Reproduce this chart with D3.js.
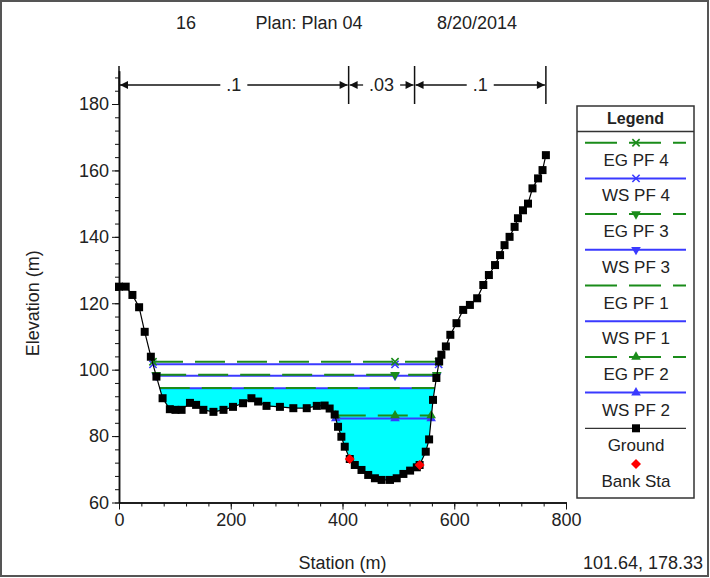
<!DOCTYPE html>
<html>
<head>
<meta charset="utf-8">
<script src="https://cdn.jsdelivr.net/npm/d3@7"></script>
<style>
  body { margin: 0; background: #fff; }
  svg text { font-family: "Liberation Sans", Arial, sans-serif; fill: #222; }
</style>
</head>
<body>
<div id="chart"></div>
<script>
// Cross section data
const groundSta = [0, 12, 24, 36, 46, 57, 67, 78, 91, 101, 112, 127, 138, 151, 169, 187, 204, 222, 237, 249,
  264, 288, 312, 336, 354, 368, 377, 386, 392, 398, 404, 413, 422, 434, 446, 458, 470, 485, 497, 509,
  521, 533, 538, 549, 555, 562, 568, 573, 577, 585, 593, 604, 616, 628, 641, 652, 662, 673, 682, 690,
  699, 708, 714, 723, 732, 740, 750, 758, 764];
const groundElev = [125, 125, 122.5, 118.8, 111.4, 103.9, 97.9, 91.4, 88.1, 87.9, 87.9, 90, 89.4, 87.9, 87.3, 87.9, 88.8, 89.9, 91.4, 90.4,
  89.1, 88.8, 88.4, 88.4, 89.1, 89.2, 88.3, 86.5, 82.8, 79.8, 76.8, 73.1, 71.3, 69.8, 68.3, 67.3, 66.8, 66.8, 67.3, 68.6,
  69.6, 70.6, 71.3, 75.3, 79, 90.9, 97.5, 102.5, 104.5, 107, 110.5, 114, 118, 119.5, 121.5, 125.5, 128.5, 131.5, 134.5, 137.5,
  140, 143, 145.6, 148, 150, 154.6, 157.6, 160.1, 164.6];

const profileNames = ['PF 4', 'PF 3', 'PF 1', 'PF 2'];
const wsElev = [101.6, 98.2, 94.4, 85.3];
const egElev = [102.4, 98.5, 94.5, 86.2];
const profileMarker = ['x', 'down', 'none', 'up'];
const filledProfile = 'PF 1';
const markerStation = 494;

const bankSta = [413, 538];
const bankElev = [73.1, 71.3];

const nBreaks = [0, 411, 529, 764];
const nValues = ['.1', '.03', '.1'];

const xTicks = [0, 200, 400, 600, 800];
const yTicks = [60, 80, 100, 120, 140, 160, 180];

const titleParts = ['16', 'Plan: Plan 04', '8/20/2014'];
const legendNames = ['EG PF 4', 'WS PF 4', 'EG PF 3', 'WS PF 3', 'EG PF 1', 'WS PF 1', 'EG PF 2', 'WS PF 2', 'Ground', 'Bank Sta'];
const cursorText = '101.64, 178.33';

const width = 710, height = 578;
const green = '#1a8c1a', blue = '#3a3aff';
const fontSize = '18px';

const svg = d3.select('#chart').append('svg')
  .attr('width', width)
  .attr('height', height);

// outer frame
svg.append('rect')
  .attr('x', 1).attr('y', 1)
  .attr('width', width - 3).attr('height', height - 3)
  .attr('fill', 'none').attr('stroke', '#555').attr('stroke-width', 2);

const x = d3.scaleLinear().domain([0, 800]).range([119, 566]);
const y = d3.scaleLinear().domain([60, 190]).range([502.5, 70.8]);

// title
const titleX = [186, 309, 477];
svg.selectAll('.title').data(titleParts).join('text')
  .attr('x', (d, i) => titleX[i]).attr('y', 29)
  .attr('text-anchor', 'middle')
  .style('font-size', fontSize)
  .text(d => d);

// axes
const yMinor = svg.append('g').attr('transform', `translate(${x(0)},0)`)
  .call(d3.axisLeft(y).tickValues(d3.range(60, 190, 4)).tickSize(4).tickSizeOuter(0).tickFormat(''));
const yAxis = svg.append('g').attr('transform', `translate(${x(0)},0)`)
  .call(d3.axisLeft(y).tickValues(yTicks).tickSize(7).tickSizeOuter(0).tickPadding(3));
const xMinor = svg.append('g').attr('transform', `translate(0,${y(60)})`)
  .call(d3.axisBottom(x).tickValues(d3.range(0, 801, 40)).tickSize(4).tickSizeOuter(0).tickFormat(''));
const xAxis = svg.append('g').attr('transform', `translate(0,${y(60)})`)
  .call(d3.axisBottom(x).tickValues(xTicks).tickSize(7).tickSizeOuter(0).tickPadding(4));
[yMinor, yAxis, xMinor, xAxis].forEach(g => {
  g.selectAll('line').attr('stroke', '#111');
  g.select('.domain').attr('stroke', '#111').attr('stroke-width', 1.5);
  g.selectAll('text').style('font-size', fontSize).attr('fill', '#222')
    .style('font-family', '"Liberation Sans", Arial, sans-serif');
});

svg.append('text')
  .attr('transform', `translate(39,${(y(60) + y(180)) / 2}) rotate(-90)`)
  .attr('text-anchor', 'middle')
  .style('font-size', fontSize)
  .text('Elevation (m)');
svg.append('text')
  .attr('x', (x(0) + x(800)) / 2).attr('y', 569)
  .attr('text-anchor', 'middle')
  .style('font-size', fontSize)
  .text('Station (m)');
svg.append('text')
  .attr('x', 703).attr('y', 569)
  .attr('text-anchor', 'end')
  .style('font-size', fontSize)
  .text(cursorText);

// Manning's n dimension bars
const dimY = 85;
const dim = svg.append('g');
nBreaks.forEach(s => {
  dim.append('line')
    .attr('x1', x(s)).attr('x2', x(s))
    .attr('y1', 66).attr('y2', 104)
    .attr('stroke', '#111').attr('stroke-width', 1.5);
});
nValues.forEach((v, i) => {
  const x0 = x(nBreaks[i]), x1 = x(nBreaks[i + 1]);
  const xm = (x0 + x1) / 2;
  const t = dim.append('text')
    .attr('x', xm).attr('y', dimY + 6)
    .attr('text-anchor', 'middle')
    .style('font-size', fontSize)
    .attr('fill', '#333')
    .text(v);
  const half = t.node().getComputedTextLength() / 2 + 6;
  dim.append('line').attr('x1', x0 + 1).attr('x2', xm - half)
    .attr('y1', dimY).attr('y2', dimY).attr('stroke', '#111').attr('stroke-width', 1.3);
  dim.append('line').attr('x1', xm + half).attr('x2', x1 - 1)
    .attr('y1', dimY).attr('y2', dimY).attr('stroke', '#111').attr('stroke-width', 1.3);
  // arrowheads
  dim.append('path').attr('d', `M${x0 + 1},${dimY} l8,-4 l0,8 z`).attr('fill', '#111');
  dim.append('path').attr('d', `M${x1 - 1},${dimY} l-8,-4 l0,8 z`).attr('fill', '#111');
});

// where a water level meets the ground, walking out from the thalweg
function wetExtent(level) {
  const iMin = d3.minIndex(groundElev);
  let i = iMin;
  while (i > 0 && groundElev[i - 1] < level) i--;
  let left = groundSta[0];
  if (i > 0) {
    const t = (level - groundElev[i]) / (groundElev[i - 1] - groundElev[i]);
    left = groundSta[i] + t * (groundSta[i - 1] - groundSta[i]);
  }
  let j = iMin;
  while (j < groundSta.length - 1 && groundElev[j + 1] < level) j++;
  let right = groundSta[groundSta.length - 1];
  if (j < groundSta.length - 1) {
    const t = (level - groundElev[j]) / (groundElev[j + 1] - groundElev[j]);
    right = groundSta[j] + t * (groundSta[j + 1] - groundSta[j]);
  }
  return [left, right];
}

const ground = groundSta.map((s, i) => ({ s: s, e: groundElev[i] }));

// water fill under the chosen profile
const fi = profileNames.indexOf(filledProfile);
const fLevel = wsElev[fi];
const fExt = wetExtent(fLevel);
svg.append('clipPath').attr('id', 'wet')
  .append('rect')
  .attr('x', x(fExt[0])).attr('y', y(fLevel))
  .attr('width', x(fExt[1]) - x(fExt[0]))
  .attr('height', y(60) - y(fLevel));
svg.append('path')
  .datum(ground)
  .attr('clip-path', 'url(#wet)')
  .attr('fill', '#00ffff')
  .attr('d', d3.area().x(d => x(d.s)).y0(d => y(d.e)).y1(y(fLevel)));

function markerPath(kind) {
  if (kind === 'x') return d3.symbol(d3.symbolX, 36)();
  if (kind === 'up' || kind === 'down') return d3.symbol(d3.symbolTriangle, 40)();
  return null;
}
function drawMarker(g, kind, cx, cy, color) {
  const p = markerPath(kind);
  if (!p) return;
  const m = g.append('path').attr('d', p)
    .attr('transform', `translate(${cx},${cy})` + (kind === 'down' ? ' rotate(180)' : ''));
  if (kind === 'x') m.attr('fill', 'none').attr('stroke', color).attr('stroke-width', 1.6);
  else m.attr('fill', color);
}

// water surface and energy grade lines
const lines = svg.append('g');
profileNames.forEach((p, i) => {
  const ext = wetExtent(wsElev[i]);
  const stations = [ext[0], markerStation, ext[1]];
  lines.append('line')
    .attr('x1', x(ext[0])).attr('x2', x(ext[1]))
    .attr('y1', y(wsElev[i])).attr('y2', y(wsElev[i]))
    .attr('stroke', blue).attr('stroke-width', 2);
  stations.forEach(s => drawMarker(lines, profileMarker[i], x(s), y(wsElev[i]), blue));
  lines.append('line')
    .attr('x1', x(ext[0])).attr('x2', x(ext[1]))
    .attr('y1', y(egElev[i])).attr('y2', y(egElev[i]))
    .attr('stroke', green).attr('stroke-width', 2)
    .attr('stroke-dasharray', '30,12');
  stations.forEach(s => drawMarker(lines, profileMarker[i], x(s), y(egElev[i]), green));
});

// ground
svg.append('path')
  .datum(ground)
  .attr('fill', 'none').attr('stroke', '#000').attr('stroke-width', 1.2)
  .attr('d', d3.line().x(d => x(d.s)).y(d => y(d.e)));
svg.append('g').selectAll('rect').data(ground).join('rect')
  .attr('x', d => x(d.s) - 4).attr('y', d => y(d.e) - 4)
  .attr('width', 8).attr('height', 8).attr('fill', '#000');

// bank stations
svg.append('g').selectAll('path').data(bankSta).join('path')
  .attr('d', d3.symbol(d3.symbolSquare, 50)())
  .attr('transform', (d, i) => `translate(${x(d)},${y(bankElev[i])}) rotate(45)`)
  .attr('fill', '#ff0000');

// legend
const lg = svg.append('g');
const lgX0 = 577, lgX1 = 694, lgTop = 106, lgBottom = 498, lgHead = 131.5;
lg.append('rect').attr('x', lgX0).attr('y', lgTop)
  .attr('width', lgX1 - lgX0).attr('height', lgBottom - lgTop)
  .attr('fill', '#fff').attr('stroke', '#333').attr('stroke-width', 1.5);
lg.append('line').attr('x1', lgX0).attr('x2', lgX1).attr('y1', lgHead).attr('y2', lgHead)
  .attr('stroke', '#333').attr('stroke-width', 1.5);
lg.append('text').attr('x', (lgX0 + lgX1) / 2).attr('y', 124)
  .attr('text-anchor', 'middle').style('font-size', '16px').style('font-weight', 'bold')
  .text('Legend');

const rowGap = 35.7, row0 = 142.7, sx0 = 585, sx1 = 686, smid = 636;
legendNames.forEach((name, k) => {
  const ly = row0 + k * rowGap;
  if (k < 8) {
    const pi = Math.floor(k / 2);
    const isEG = k % 2 === 0;
    const col = isEG ? green : blue;
    const l = lg.append('line').attr('x1', sx0).attr('x2', sx1).attr('y1', ly).attr('y2', ly)
      .attr('stroke', col).attr('stroke-width', 2);
    if (isEG) l.attr('stroke-dasharray', '32,12');
    drawMarker(lg, profileMarker[pi], smid, ly, col);
  } else if (name === 'Ground') {
    lg.append('line').attr('x1', sx0).attr('x2', sx1).attr('y1', ly).attr('y2', ly)
      .attr('stroke', '#000').attr('stroke-width', 1);
    lg.append('rect').attr('x', smid - 4).attr('y', ly - 4).attr('width', 8).attr('height', 8).attr('fill', '#000');
  } else {
    lg.append('path').attr('d', d3.symbol(d3.symbolSquare, 50)())
      .attr('transform', `translate(${smid},${ly}) rotate(45)`).attr('fill', '#ff0000');
  }
  lg.append('text').attr('x', smid).attr('y', ly + 23)
    .attr('text-anchor', 'middle').style('font-size', '17px')
    .text(name);
});
</script>
</body>
</html>
